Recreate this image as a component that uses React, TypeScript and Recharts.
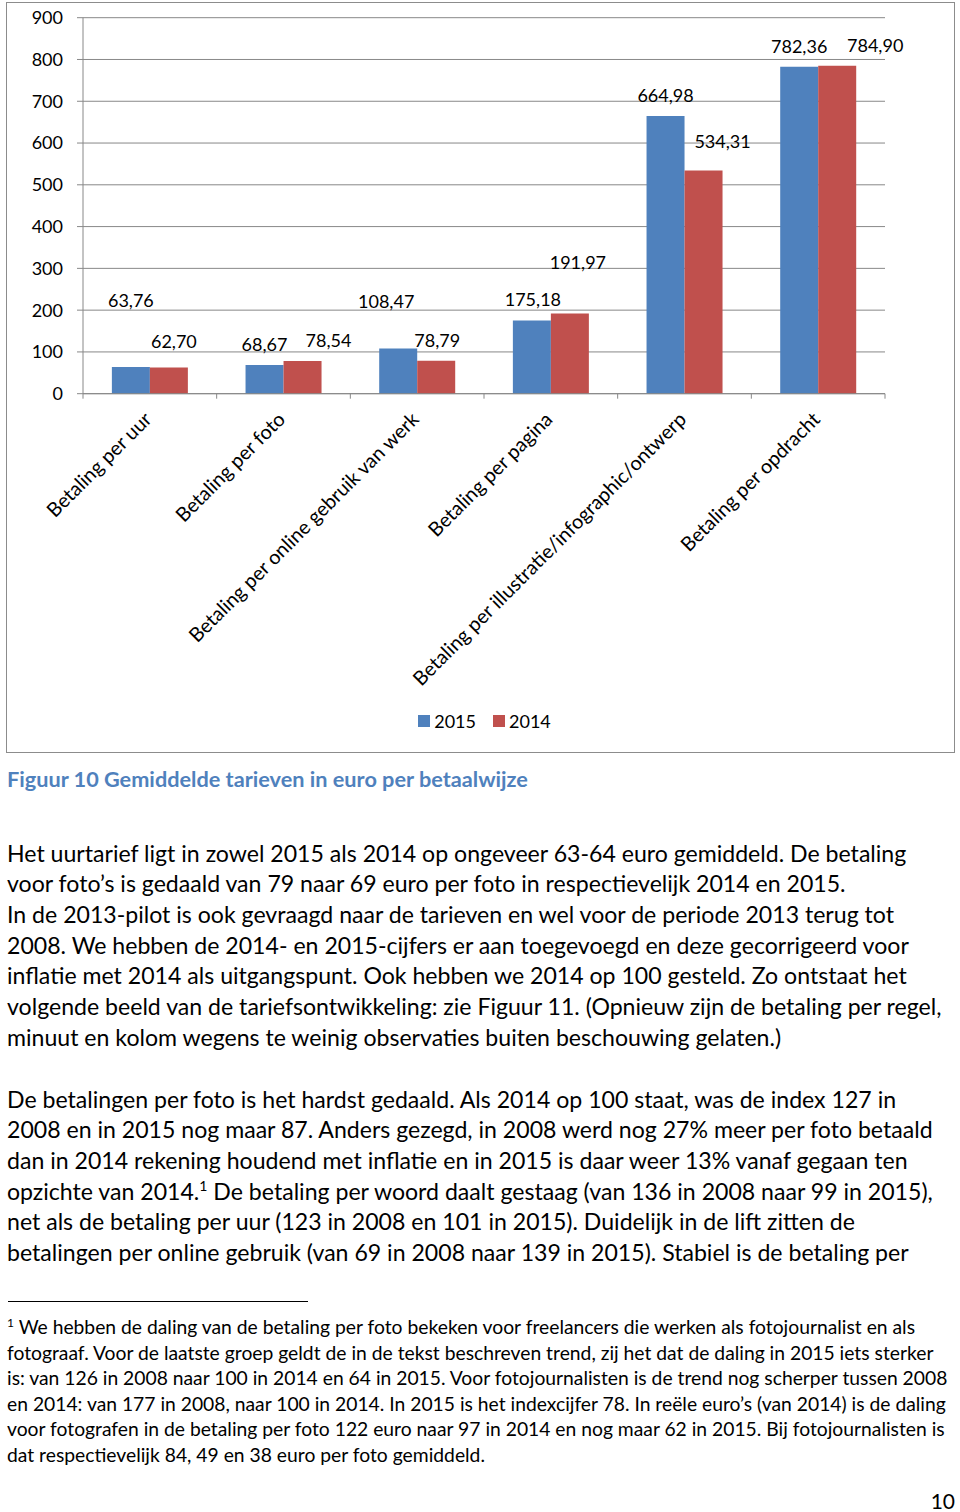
import React from 'react';
import { BarChart, Bar, XAxis, YAxis, CartesianGrid, Legend, LabelList } from 'recharts';

const categories = [
  'Betaling per uur',
  'Betaling per foto',
  'Betaling per online gebruik van werk',
  'Betaling per pagina',
  'Betaling per illustratie/infographic/ontwerp',
  'Betaling per opdracht',
];
const values2015 = [63.76, 68.67, 108.47, 175.18, 664.98, 782.36];
const values2014 = [62.7, 78.54, 78.79, 191.97, 534.31, 784.9];
const yTicks = [0, 100, 200, 300, 400, 500, 600, 700, 800, 900];
const seriesNames = ['2015', '2014'];

// layout only: manual nudges of the data labels (px from top-centre of bar)
const labelNudge2015 = [[0, -67], [0, -21], [-12, -47], [1, -22], [0, -21], [0, -21]];
const labelNudge2014 = [[5, -27], [26, -21], [1, -21], [8, -51], [19, -29], [38, -21]];

const data = categories.map((c, i) => ({ category: c, v2015: values2015[i], v2014: values2014[i] }));

const BLUE = '#4F81BD';
const RED = '#C0504D';
const GRID = '#888888';
const FONT = 'Lato, "Open Sans", sans-serif';

const fmt = (v: number) => v.toFixed(2).replace('.', ',');

const makeLabel = (nudges: number[][]) => (props: any) => {
  const { x, y, width, value, index } = props;
  const n = nudges[index] || [0, -21];
  return (
    <text x={Number(x) + Number(width) / 2 + n[0]} y={Number(y) + n[1]} textAnchor="middle" dominantBaseline="central" fontSize={18} fill="#000">
      {fmt(Number(value))}
    </text>
  );
};

const CategoryTick = (props: any) => {
  const { x, y, payload, index } = props;
  const half = payload && payload.offset != null ? payload.offset : 0;
  const last = index === categories.length - 1;
  const ax = x + 3;
  const ay = y + 27;
  return (
    <g>
      <line x1={x - half} x2={x - half} y1={y} y2={y + 5} stroke={GRID} />
      {last && <line x1={x + half} x2={x + half} y1={y} y2={y + 5} stroke={GRID} />}
      <text x={ax} y={ay} transform={`rotate(-45, ${ax}, ${ay})`} textAnchor="end" fontSize={19.8} fill="#000">
        {payload.value}
      </text>
    </g>
  );
};

const LegendContent = (props: any) => {
  const items = [...(props.payload || [])].sort(
    (a: any, b: any) => seriesNames.indexOf(String(a.value)) - seriesNames.indexOf(String(b.value))
  );
  return (
    <div style={{ display: 'flex', justifyContent: 'center', alignItems: 'center', fontSize: 18, fontFamily: FONT, color: '#000', paddingLeft: 8 }}>
      {items.map((it: any, i: number) => (
        <div key={i} style={{ display: 'flex', alignItems: 'center', marginRight: i === 0 ? 17 : 0 }}>
          <span style={{ display: 'inline-block', width: 12, height: 12, background: it.color, marginRight: 4 }} />
          <span>{it.value}</span>
        </div>
      ))}
    </div>
  );
};

const bodyLine: React.CSSProperties = { whiteSpace: 'nowrap' };

const para1 = [
  'Het uurtarief ligt in zowel 2015 als 2014 op ongeveer 63-64 euro gemiddeld. De betaling',
  'voor foto’s is gedaald van 79 naar 69 euro per foto in respectievelijk 2014 en 2015.',
  'In de 2013-pilot is ook gevraagd naar de tarieven en wel voor de periode 2013 terug tot',
  '2008. We hebben de 2014- en 2015-cijfers er aan toegevoegd en deze gecorrigeerd voor',
  'inflatie met 2014 als uitgangspunt. Ook hebben we 2014 op 100 gesteld. Zo ontstaat het',
  'volgende beeld van de tariefsontwikkeling: zie Figuur 11. (Opnieuw zijn de betaling per regel,',
  'minuut en kolom wegens te weinig observaties buiten beschouwing gelaten.)',
];

const footLines = [
  'fotograaf. Voor de laatste groep geldt de in de tekst beschreven trend, zij het dat de daling in 2015 iets sterker',
  'is: van 126 in 2008 naar 100 in 2014 en 64 in 2015. Voor fotojournalisten is de trend nog scherper tussen 2008',
  'en 2014: van 177 in 2008, naar 100 in 2014. In 2015 is het indexcijfer 78. In reële euro’s (van 2014) is de daling',
  'voor fotografen in de betaling per foto 122 euro naar 97 in 2014 en nog maar 62 in 2015. Bij fotojournalisten is',
  'dat respectievelijk 84, 49 en 38 euro per foto gemiddeld.',
];

export default function App() {
  return (
    <div style={{ position: 'absolute', left: 0, top: 0, width: 960, height: 1512, background: '#fff', fontFamily: FONT, color: '#000', overflow: 'hidden' }}>
      <div style={{ position: 'absolute', left: 6, top: 2, width: 949, height: 751, border: '1px solid #8c8c8c', boxSizing: 'border-box' }}>
        <BarChart
          width={947}
          height={749}
          data={data}
          margin={{ top: 14.7, right: 69, left: 0, bottom: 0 }}
          barGap={0}
          barCategoryGap="21.6%"
        >
          <CartesianGrid vertical={false} stroke={GRID} />
          <XAxis
            dataKey="category"
            height={358.3}
            interval={0}
            tickSize={0}
            tickMargin={0}
            tickLine={false}
            axisLine={{ stroke: GRID }}
            tick={<CategoryTick />}
          />
          <YAxis
            width={76}
            domain={[0, 900]}
            ticks={yTicks}
            interval={0}
            tickSize={6}
            tickMargin={14}
            axisLine={{ stroke: GRID }}
            tickLine={{ stroke: GRID }}
            tick={{ fontSize: 18, fill: '#000' }}
          />
          <Legend layout="horizontal" verticalAlign="middle" align="center" wrapperStyle={{ top: 707, left: 0, width: 947 }} content={<LegendContent />} />
          <Bar dataKey="v2015" name={seriesNames[0]} fill={BLUE} isAnimationActive={false}>
            <LabelList dataKey="v2015" content={makeLabel(labelNudge2015)} />
          </Bar>
          <Bar dataKey="v2014" name={seriesNames[1]} fill={RED} isAnimationActive={false}>
            <LabelList dataKey="v2014" content={makeLabel(labelNudge2014)} />
          </Bar>
        </BarChart>
      </div>

      <div style={{ position: 'absolute', left: 7, top: 767, fontSize: 21.7, lineHeight: '24px', fontWeight: 700, color: BLUE, whiteSpace: 'nowrap' }}>
        Figuur 10 Gemiddelde tarieven in euro per betaalwijze
      </div>

      <div style={{ position: 'absolute', left: 7, top: 837.6, fontSize: 23.1, lineHeight: '30.7px' }}>
        {para1.map((l, i) => (
          <div key={i} style={bodyLine}>{l}</div>
        ))}
      </div>

      <div style={{ position: 'absolute', left: 7, top: 1083.6, fontSize: 23.1, lineHeight: '30.7px' }}>
        <div style={bodyLine}>De betalingen per foto is het hardst gedaald. Als 2014 op 100 staat, was de index 127 in</div>
        <div style={bodyLine}>2008 en in 2015 nog maar 87. Anders gezegd, in 2008 werd nog 27% meer per foto betaald</div>
        <div style={bodyLine}>dan in 2014 rekening houdend met inflatie en in 2015 is daar weer 13% vanaf gegaan ten</div>
        <div style={bodyLine}>
          opzichte van 2014.<sup style={{ fontSize: 14, lineHeight: 0 }}>1</sup> De betaling per woord daalt gestaag (van 136 in 2008 naar 99 in 2015),
        </div>
        <div style={bodyLine}>net als de betaling per uur (123 in 2008 en 101 in 2015). Duidelijk in de lift zitten de</div>
        <div style={bodyLine}>betalingen per online gebruik (van 69 in 2008 naar 139 in 2015). Stabiel is de betaling per</div>
      </div>

      <div style={{ position: 'absolute', left: 8, top: 1301, width: 300, height: 1, background: '#000' }} />

      <div style={{ position: 'absolute', left: 7, top: 1314.2, fontSize: 19.3, lineHeight: '25.5px' }}>
        <div style={bodyLine}>
          <sup style={{ fontSize: 12, lineHeight: 0 }}>1</sup> We hebben de daling van de betaling per foto bekeken voor freelancers die werken als fotojournalist en als
        </div>
        {footLines.map((l, i) => (
          <div key={i} style={bodyLine}>{l}</div>
        ))}
      </div>

      <div style={{ position: 'absolute', right: 5, top: 1489, fontSize: 21, lineHeight: '24px' }}>10</div>
    </div>
  );
}
